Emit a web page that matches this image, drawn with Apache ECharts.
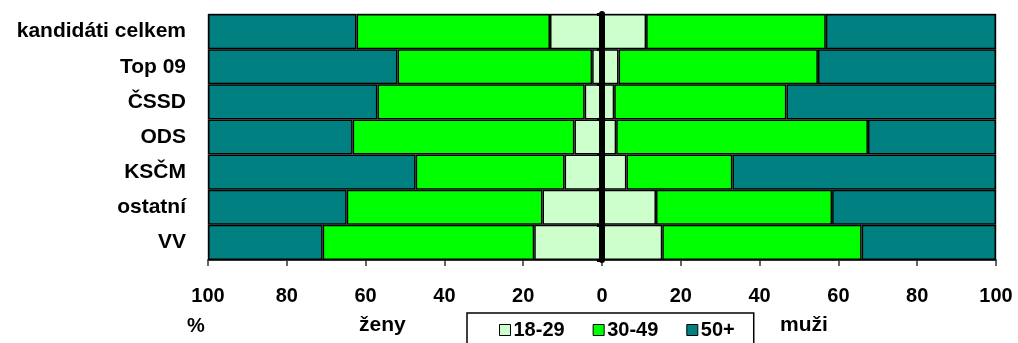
<!DOCTYPE html>
<html><head><meta charset="utf-8">
<script src="https://cdn.jsdelivr.net/npm/echarts@6/dist/echarts.min.js"></script>
<style>html,body{margin:0;padding:0;background:#fff}#c{width:1018px;height:343px}</style>
</head><body><div id="c"></div>
<script>
const categories = ['kandidáti celkem','Top 09','ČSSD','ODS','KSČM','ostatní','VV'];
const ageGroups = ['18-29','30-49','50+'];
const women18 = [13.2, 2.5, 4.4, 7.0, 9.5, 15.1, 17.2];
const women30 = [49.1, 49.4, 52.6, 56.3, 37.8, 49.7, 53.7];
const women50 = [37.7, 48.1, 43.0, 36.7, 52.7, 35.2, 29.1];
const men18 = [11.2, 4.2, 3.1, 3.6, 6.2, 13.7, 15.3];
const men30 = [45.6, 50.6, 43.7, 63.9, 26.9, 44.7, 50.6];
const men50 = [43.2, 45.2, 53.2, 32.5, 66.9, 41.6, 34.1];
const xTicks = [-100,-80,-60,-40,-20,0,20,40,60,80,100];

const colors = ['#ccffcc','#00ff00','#008080'];
const font = "'Liberation Sans', Arial, sans-serif";
const gridLeft = 208, gridRight = 22, W = 1018;
const zeroOffset = -((W - gridRight - gridLeft) / 2);
function mk(name, data, color, neg){
  return {
    name: name, type: 'bar', stack: 'all', barCategoryGap: '0%', z: 2,
    data: neg ? data.map(v => -v) : data,
    itemStyle: {color: color, borderColor: '#000', borderWidth: 1.5},
    emphasis: {disabled: true}
  };
}
const series = [
  mk(ageGroups[0], women18, colors[0], true),
  mk(ageGroups[1], women30, colors[1], true),
  mk(ageGroups[2], women50, colors[2], true),
  mk(ageGroups[0], men18, colors[0], false),
  mk(ageGroups[1], men30, colors[1], false),
  mk(ageGroups[2], men50, colors[2], false)
];
const chart = echarts.init(document.getElementById('c'));
chart.setOption({
  animation: false,
  textStyle: {fontFamily: font},
  grid: {left: gridLeft, right: gridRight, top: 14, bottom: 83, show: true, borderColor: '#999', borderWidth: 1},
  xAxis: {
    type: 'value', min: xTicks[0], max: xTicks[xTicks.length-1], interval: 20,
    splitLine: {show: false},
    axisLine: {show: true, lineStyle: {color: '#000', width: 1.5}},
    axisTick: {show: true, length: 6, lineStyle: {color: '#333', width: 1.5}},
    axisLabel: {margin: 26, color: '#000', fontSize: 20, fontWeight: 'bold', fontFamily: font,
      formatter: v => String(Math.abs(v))}
  },
  yAxis: [
    {type: 'category', data: categories, inverse: true,
     axisLine: {show: false, onZero: false}, axisTick: {show: false},
     axisLabel: {margin: 22, color: '#000', fontSize: 21, fontWeight: 'bold', fontFamily: font}},
    {type: 'category', data: categories, inverse: true, position: 'left', offset: zeroOffset, z: 10,
     axisLine: {show: true, onZero: false, lineStyle: {color: '#000', width: 6}},
     axisTick: {show: true, length: 5, lineStyle: {color: '#000', width: 3}},
     axisLabel: {show: false}}
  ],
  legend: {
    data: ageGroups, left: 467, top: 313, orient: 'horizontal',
    padding: [7, 19, 30, 32], itemGap: 28, itemWidth: 11, itemHeight: 11, icon: 'rect',
    borderColor: '#000', borderWidth: 1.5,
    itemStyle: {borderColor: '#000', borderWidth: 1},
    textStyle: {color: '#000', fontSize: 20, fontWeight: 'bold', fontFamily: font, padding: [0,0,0,-2]}
  },
  graphic: [
    {type: 'text', left: 187, top: 316, style: {text: '%', fontSize: 20, fontWeight: 'bold', fontFamily: font, fill: '#000'}},
    {type: 'text', left: 359, top: 315, style: {text: 'ženy', fontSize: 21, fontWeight: 'bold', fontFamily: font, fill: '#000'}},
    {type: 'text', left: 780, top: 315, style: {text: 'muži', fontSize: 21, fontWeight: 'bold', fontFamily: font, fill: '#000'}}
  ],
  series: series
});
</script></body></html>
